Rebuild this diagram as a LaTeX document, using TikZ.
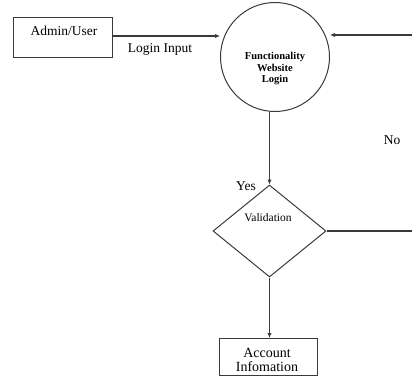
\documentclass[tikz,border=0pt]{standalone}
\usepackage{fontspec}
\setmainfont{Liberation Serif}
\usetikzlibrary{shapes.geometric,arrows.meta}
\definecolor{line}{HTML}{3A3A3A}
\tikzset{
  box/.style={draw=line, line width=1pt, minimum width=99pt, minimum height=40pt, inner sep=0pt},
  flow/.style={draw=line, line width=1.1pt, -{Latex[length=5pt,width=4.5pt]}},
  plain/.style={draw=line, line width=1.1pt},
  lab/.style={font=\fontsize{13.5}{15}\selectfont, inner sep=0pt},
}
\begin{document}
\begin{tikzpicture}[x=1pt, y=-1pt]
  \useasboundingbox (0,0) rectangle (412,377);
  % boxes and shapes
  \node[box] (admin) at (62.5,38) {};
  \node[lab] (admintxt) at (64,31) {Admin/User};
  \node[draw=line, line width=1pt, circle, minimum size=109pt, inner sep=0pt] (login) at (275,57) {};
  \node[lab, font=\fontsize{10.5}{11.5}\selectfont\bfseries, align=center] (logintxt) at (275,69) {Functionality\\Website\\Login};
  \node[draw=line, line width=1pt, diamond, minimum width=113pt, minimum height=92pt, inner sep=0pt] (valid) at (269.5,231) {};
  \node[lab, font=\fontsize{11.5}{13}\selectfont] (validtxt) at (268,218) {Validation};
  \node[box, minimum width=98pt, minimum height=37pt] (account) at (268,357) {};
  \node[lab, align=center, font=\fontsize{14}{13.5}\selectfont] (accounttxt) at (267,360) {Account\\Infomation};
  % free ends at the right edge
  \coordinate (rtop) at (412,35);
  \coordinate (rmid) at (412,231);
  % connectors
  \draw[flow] (admin.east |- 0,36) -- (login.west |- 0,36);
  \draw[flow] (rtop) -- (login.east |- rtop);
  \draw[flow] (valid.north |- login.south) -- (valid.north);
  \draw[plain] (valid.east) -- (rmid);
  \draw[flow] (valid.south) -- (valid.south |- account.north);
  % labels
  \node[lab] (inputlab) at (160,49) {Login Input};
  \node[lab] (yeslab) at (246,186) {Yes};
  \node[lab] (nolab) at (392,140) {No};
\end{tikzpicture}
\end{document}
